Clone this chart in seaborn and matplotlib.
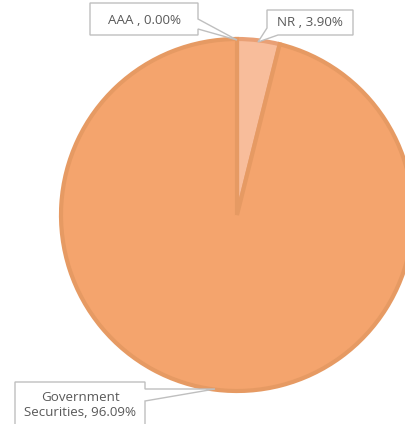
import matplotlib
matplotlib.use("Agg")
import matplotlib.pyplot as plt
from matplotlib.patches import Polygon
import seaborn as sns

# Portfolio composition by rating
categories = ["AAA", "NR", "Government\nSecurities"]
shares = [0.00, 3.90, 96.09]
separators = [" , ", " , ", ", "]

fills = ["#F2B690", "#F8BD9B", "#F4A46D"]
edges = ["#EDB18C", "#E9A075", "#E69A63"]

sns.set_theme(style="white")
plt.rcParams["font.family"] = ["Open Sans", "DejaVu Sans"]

W, H = 405, 424
fig = plt.figure(figsize=(W / 100, H / 100), dpi=100)
ax = fig.add_axes([0, 0, 1, 1])

cx, cy, r = 237, 215, 176
wedges, _ = ax.pie(shares, colors=fills, startangle=90, counterclock=False,
                   center=(cx, H - cy), radius=r,
                   wedgeprops=dict(linewidth=3.0, joinstyle="miter"))
for w, ec in zip(wedges, edges):
    w.set_edgecolor(ec)
ax.set_xlim(0, W)
ax.set_ylim(0, H)
ax.set_aspect("equal")
ax.axis("off")


def flip(pts):
    return [(x, H - y) for x, y in pts]


# callout boxes (pixel coordinates, y from the top)
callouts = [
    # AAA: box with pointer on the right edge
    [(90, 3), (198, 3), (198, 19), (237, 40), (198, 29), (198, 35), (90, 35)],
    # NR: box with pointer at the lower-left corner
    [(267, 10), (353, 10), (353, 35), (278, 35), (258, 42), (267, 28)],
    # Government Securities: box with pointer on the right edge
    [(15, 382), (145, 382), (145, 389), (215, 389), (145, 401), (145, 430), (15, 430)],
]
for pts in callouts:
    ax.add_patch(Polygon(flip(pts), closed=True, facecolor="white",
                         edgecolor="#BFBFBF", linewidth=1.0, zorder=3,
                         clip_on=False))

label_pos = [(145, 20), (310, 22), (80, 405)]
for cat, val, sep, (x, y) in zip(categories, shares, separators, label_pos):
    ax.text(x, H - y, f"{cat}{sep}{val:.2f}%", ha="center", va="center",
            fontsize=9.6, color="#595959", linespacing=1.2, zorder=4)

fig.savefig("out.png", dpi=100)
